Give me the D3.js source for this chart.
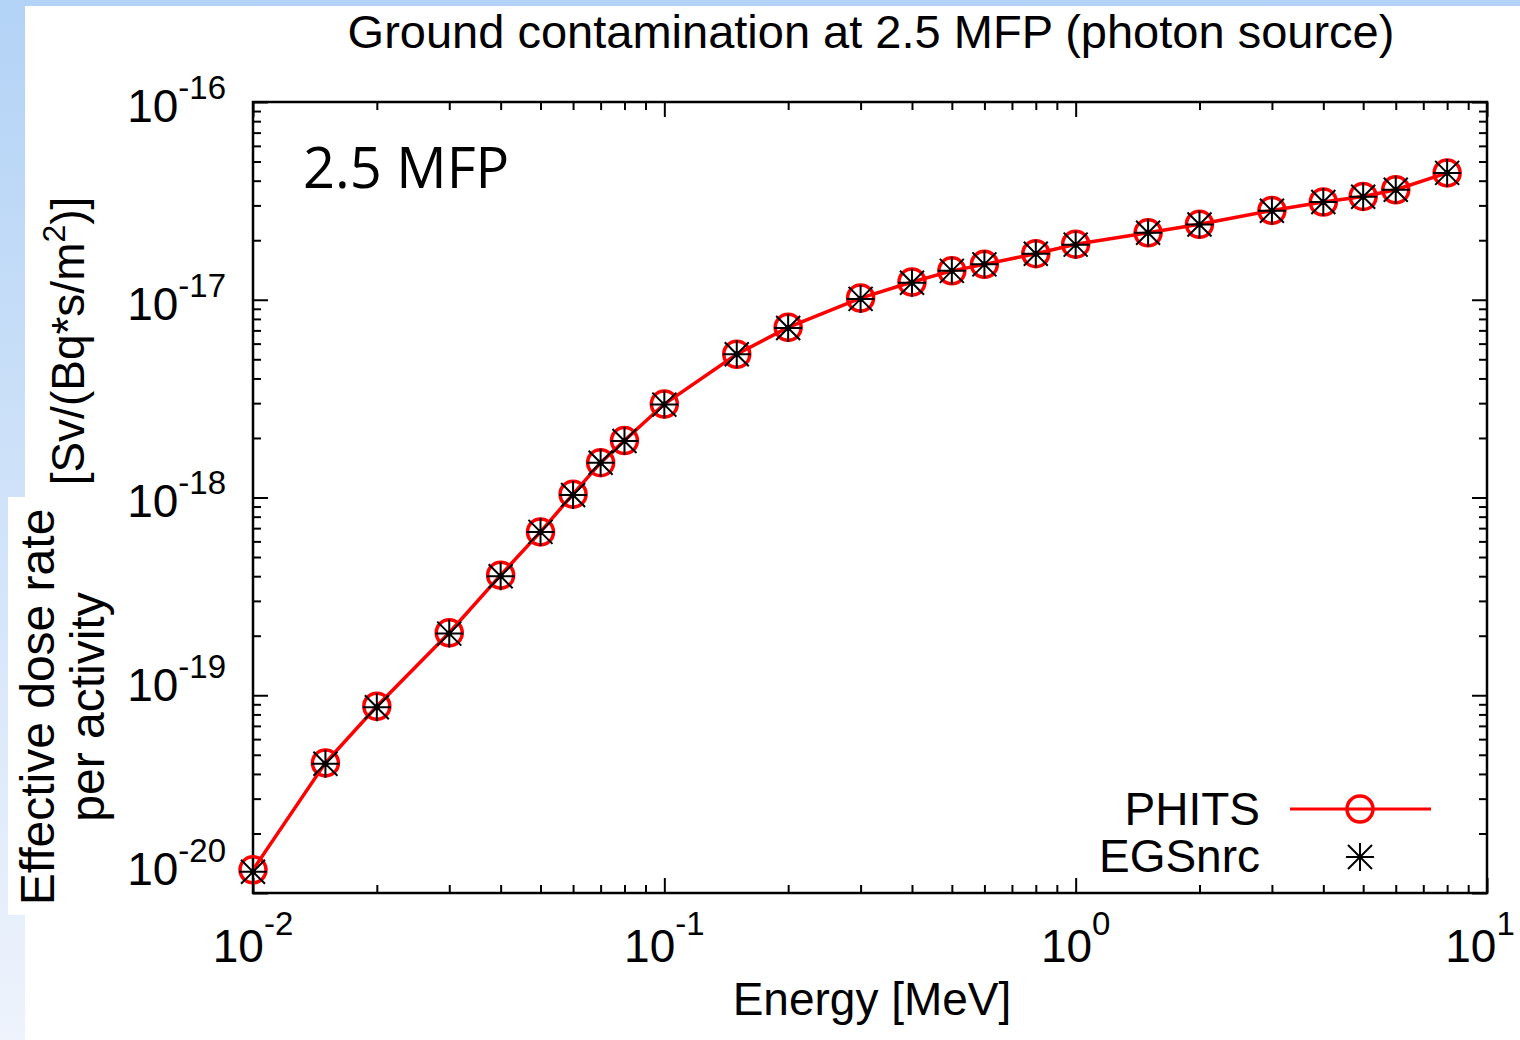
<!DOCTYPE html>
<html lang="en">
<head>
    <meta charset="UTF-8">
    <title>Ground contamination at 2.5 MFP</title>

    <script src="https://d3js.org/d3.v7.min.js"></script>

    <style>
        body {
            margin: 0;
            background: #ffffff;
        }
        svg {
            display: block;
        }
        text {
            font-family: "Liberation Sans", Arial, sans-serif;
            fill: #000;
        }
    </style>

    <script>

        // energies in MeV
        const ENERGY = [0.01, 0.015, 0.02, 0.03, 0.04, 0.05, 0.06, 0.07, 0.08, 0.1,
            0.15, 0.2, 0.3, 0.4, 0.5, 0.6, 0.8, 1, 1.5, 2, 3, 4, 5, 6, 8];

        // effective dose rate per activity, Sv/(Bq*s/m2)
        const PHITS = [1.31e-20, 4.55e-20, 8.8e-20, 2.07e-19, 4.05e-19, 6.7e-19, 1.04e-18, 1.5e-18, 1.94e-18, 2.97e-18,
            5.3e-18, 7.25e-18, 1.02e-17, 1.23e-17, 1.40e-17, 1.51e-17, 1.71e-17, 1.91e-17, 2.18e-17, 2.41e-17,
            2.83e-17, 3.12e-17, 3.33e-17, 3.6e-17, 4.38e-17];

        const EGSNRC = [1.28e-20, 4.5e-20, 8.7e-20, 2.05e-19, 4.0e-19, 6.7e-19, 1.03e-18, 1.5e-18, 1.93e-18, 2.95e-18,
            5.3e-18, 7.2e-18, 1.01e-17, 1.22e-17, 1.40e-17, 1.51e-17, 1.71e-17, 1.90e-17, 2.18e-17, 2.40e-17,
            2.82e-17, 3.12e-17, 3.32e-17, 3.6e-17, 4.38e-17];

        const X_EXPONENTS = [-2, -1, 0, 1];
        const Y_EXPONENTS = [-16, -17, -18, -19, -20];

        document.addEventListener("DOMContentLoaded", function() {
            drawChart();
        })

        function minorTicks(lo, hi) {
            const out = [];
            for (let d = lo; d < hi; d++) {
                for (let m = 2; m <= 9; m++) out.push(m * Math.pow(10, d));
            }
            return out;
        }

        function drawChart() {
            const width = 1520;
            const height = 1040;

            const svg = d3.select('svg')
                .attr("width", width)
                .attr("height", height);

            // slide background
            const defs = svg.append("defs");
            const grad = defs.append("linearGradient")
                .attr("id", "bg")
                .attr("x1", 0).attr("y1", 0).attr("x2", 0).attr("y2", 1);
            grad.append("stop").attr("offset", "0%").attr("stop-color", "#b3d3f6");
            grad.append("stop").attr("offset", "100%").attr("stop-color", "#eef3fc");

            svg.append("rect").attr("width", width).attr("height", height).attr("fill", "url(#bg)");
            svg.append("rect").attr("x", 25).attr("y", 6)
                .attr("width", width - 25).attr("height", height - 6).attr("fill", "#fff");

            const left = 253, right = 1487, top = 102, bottom = 893;

            const x = d3.scaleLog().domain([1e-2, 1e1]).range([left, right]);
            const y = d3.scaleLog().domain([1e-20, 1e-16]).range([bottom, top]);

            const xMajor = X_EXPONENTS.map(e => Math.pow(10, e));
            const yMajor = Y_EXPONENTS.map(e => Math.pow(10, e));
            const xMinor = minorTicks(-2, 1);
            const yMinor = minorTicks(-20, -16);

            const major = 15, minor = 8;

            function addAxis(axisFn, scale, values, size, tx, ty) {
                const g = svg.append("g")
                    .attr("transform", "translate(" + tx + "," + ty + ")")
                    .call(axisFn(scale).tickValues(values).tickSize(-size).tickFormat(""));
                g.select(".domain").remove();
                g.selectAll(".tick line").attr("stroke", "#000").attr("stroke-width", 2);
            }

            addAxis(d3.axisBottom, x, xMajor, major, 0, bottom);
            addAxis(d3.axisBottom, x, xMinor, minor, 0, bottom);
            addAxis(d3.axisTop, x, xMajor, major, 0, top);
            addAxis(d3.axisTop, x, xMinor, minor, 0, top);
            addAxis(d3.axisLeft, y, yMajor, major, left, 0);
            addAxis(d3.axisLeft, y, yMinor, minor, left, 0);
            addAxis(d3.axisRight, y, yMajor, major, right, 0);
            addAxis(d3.axisRight, y, yMinor, minor, right, 0);

            svg.append("rect")
                .attr("x", left).attr("y", top)
                .attr("width", right - left).attr("height", bottom - top)
                .attr("fill", "none").attr("stroke", "#000").attr("stroke-width", 2.5);

            // tick labels
            svg.selectAll(".xlab")
                .data(X_EXPONENTS)
                .enter()
                .append("text")
                .attr("class", "xlab")
                .attr("x", d => Math.min(x(Math.pow(10, d)), width - 40))
                .attr("y", 962)
                .attr("text-anchor", "middle")
                .style("font-size", "46px")
                .each(function(d) {
                    const t = d3.select(this);
                    t.append("tspan").text("10");
                    t.append("tspan").attr("dy", -27).style("font-size", "33px").text(d);
                });

            const labelY = d3.scaleLinear().domain([-16, -18, -20]).range([122, 517, 885]);

            svg.selectAll(".ylab")
                .data(Y_EXPONENTS)
                .enter()
                .append("text")
                .attr("class", "ylab")
                .attr("x", 226)
                .attr("y", d => labelY(d))
                .attr("text-anchor", "end")
                .style("font-size", "46px")
                .each(function(d) {
                    const t = d3.select(this);
                    t.append("tspan").text("10");
                    t.append("tspan").attr("dy", -23).style("font-size", "33px").text(d);
                });

            // titles
            svg.append("text")
                .attr("x", 871).attr("y", 48)
                .attr("text-anchor", "middle")
                .style("font-size", "47px")
                .text("Ground contamination at 2.5 MFP (photon source)");

            svg.append("text")
                .attr("x", 872).attr("y", 1015)
                .attr("text-anchor", "middle")
                .style("font-size", "46px")
                .text("Energy [MeV]");

            const yTitle = svg.append("text")
                .attr("transform", "translate(84,341) rotate(-90)")
                .attr("text-anchor", "middle")
                .style("font-size", "46px");
            yTitle.append("tspan").text("[Sv/(Bq*s/m");
            yTitle.append("tspan").attr("dy", -19).style("font-size", "32px").text("2");
            yTitle.append("tspan").attr("dy", 19).text(")]");

            svg.append("rect")
                .attr("x", 8).attr("y", 497)
                .attr("width", 100).attr("height", 418)
                .attr("fill", "#fff");

            const overlay = svg.append("text")
                .attr("transform", "translate(0,707) rotate(-90)")
                .attr("text-anchor", "middle")
                .style("font-size", "48px");
            overlay.append("tspan").attr("x", 0).attr("y", 54).text("Effective dose rate");
            overlay.append("tspan").attr("x", 0).attr("y", 104).text("per activity");

            svg.append("text")
                .attr("x", 303).attr("y", 188)
                .style("font-family", "'Open Sans', sans-serif")
                .style("font-size", "56px")
                .text("2.5 MFP");

            // series
            const pts = ENERGY.map((e, i) => ({e: e, p: PHITS[i], g: EGSNRC[i]}));

            const line = d3.line().x(d => x(d.e)).y(d => y(d.p));

            svg.append("path")
                .datum(pts)
                .attr("d", line)
                .attr("fill", "none")
                .attr("stroke", "#ff0000")
                .attr("stroke-width", 3.5);

            svg.selectAll(".phits")
                .data(pts)
                .enter()
                .append("circle")
                .attr("class", "phits")
                .attr("cx", d => x(d.e))
                .attr("cy", d => y(d.p))
                .attr("r", 13)
                .attr("fill", "none")
                .attr("stroke", "#ff0000")
                .attr("stroke-width", 3.5);

            const starPath = "M-12,-12L12,12M-12,12L12,-12M0,-14L0,14M-14,0L14,0";

            svg.selectAll(".egs")
                .data(pts)
                .enter()
                .append("path")
                .attr("class", "egs")
                .attr("transform", d => "translate(" + x(d.e) + "," + y(d.g) + ")")
                .attr("d", starPath)
                .attr("stroke", "#000")
                .attr("stroke-width", 2);

            svg.selectAll(".egsdot")
                .data(pts)
                .enter()
                .append("circle")
                .attr("class", "egsdot")
                .attr("cx", d => x(d.e))
                .attr("cy", d => y(d.g))
                .attr("r", 3)
                .attr("fill", "#000");

            // legend
            const legend = svg.append("g");
            legend.append("text")
                .attr("x", 1260).attr("y", 825)
                .attr("text-anchor", "end")
                .style("font-size", "46px")
                .text("PHITS");
            legend.append("line")
                .attr("x1", 1290).attr("x2", 1431)
                .attr("y1", 809).attr("y2", 809)
                .attr("stroke", "#ff0000").attr("stroke-width", 3);
            legend.append("circle")
                .attr("cx", 1360).attr("cy", 809).attr("r", 13)
                .attr("fill", "none").attr("stroke", "#ff0000").attr("stroke-width", 3.5);

            legend.append("text")
                .attr("x", 1260).attr("y", 872)
                .attr("text-anchor", "end")
                .style("font-size", "46px")
                .text("EGSnrc");
            legend.append("path")
                .attr("transform", "translate(1360,857)")
                .attr("d", starPath)
                .attr("stroke", "#000").attr("stroke-width", 2);
        }

    </script>

</head>
<body>
    <svg id="chart"></svg>
</body>
</html>
